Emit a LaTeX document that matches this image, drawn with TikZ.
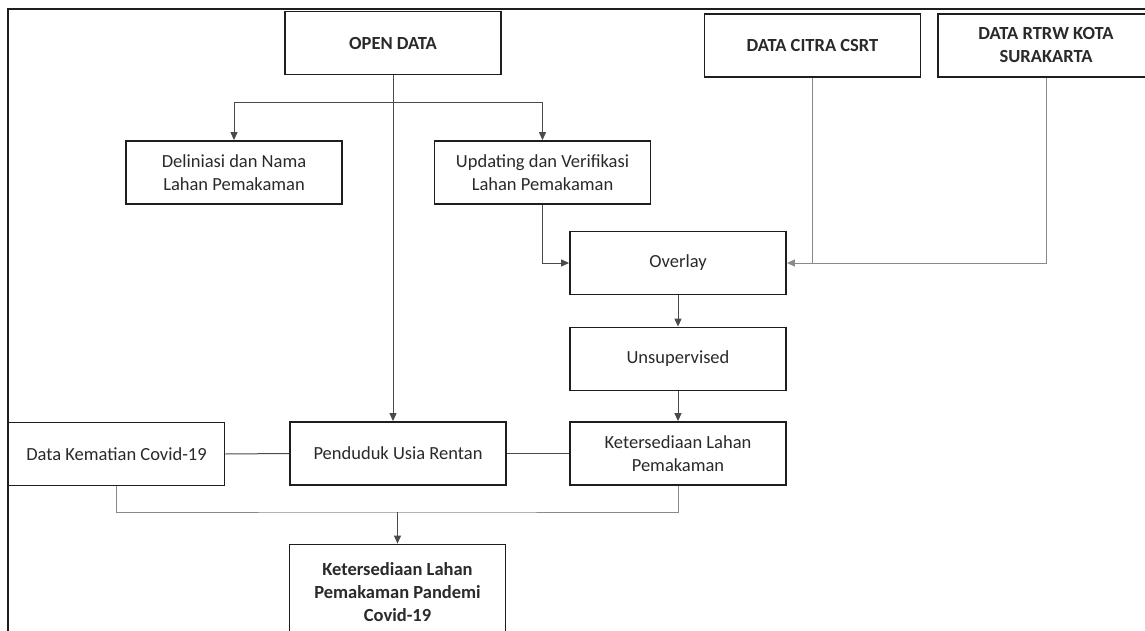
\documentclass[tikz,border=0pt]{standalone}
\usepackage{fontspec}
\setmainfont{Carlito}
\usepackage{xcolor}
\definecolor{boxline}{HTML}{1E1E1E}
\definecolor{textdark}{HTML}{2A2A2A}
\definecolor{linedark}{HTML}{4A4A4A}
\definecolor{linegray}{HTML}{8A8A8A}
\usepackage{tikz}
\usetikzlibrary{arrows.meta, calc}
\tikzset{
  fbox/.style ={rectangle, draw=boxline, line width=1.8pt, fill=white, text=textdark, align=center,
                minimum width=216pt, minimum height=63pt, inner sep=2pt,
                font=\fontsize{18.5}{23}\selectfont},
  fboxb/.style={fbox, font=\fontsize{18.5}{23}\selectfont\bfseries},
  farr/.style ={-{Triangle[length=8pt, width=7pt]}, line width=1pt, color=linedark},
  fline/.style={line width=1pt, color=linedark},
  garr/.style ={-{Triangle[length=8pt, width=7pt]}, line width=1pt, color=linegray},
  gline/.style={line width=1pt, color=linegray},
}

\begin{document}
\begin{tikzpicture}[x=1pt, y=-1pt]
  \useasboundingbox (0,0) rectangle (1145,631);
  \clip (0,0) rectangle (1145,631);
  % bingkai luar (terpotong di kanan dan bawah)
  \draw[line width=2.2pt, color=boxline] (8,700) -- (8,9) -- (1200,9);

  \node[fboxb] (opendata)  at (393,43)     {OPEN DATA};
  \node[fboxb] (citra)     at (812.5,45.5) {DATA CITRA CSRT};
  \node[fboxb] (rtrw)      at (1046,45.5)  {DATA RTRW KOTA\\SURAKARTA};
  \node[fbox]  (deliniasi) at (234,172.5)  {Deliniasi dan Nama\\Lahan Pemakaman};
  \node[fbox]  (updating)  at (542.5,172.5){Updating dan Verifikasi\\Lahan Pemakaman};
  \node[fbox]  (overlay)   at (678,263)    {Overlay};
  \node[fbox]  (unsup)     at (678,359)    {Unsupervised};
  \node[fbox]  (lahan)     at (678,453.5)  {Ketersediaan Lahan\\Pemakaman};
  \node[fbox]  (penduduk)  at (398,453.5)  {Penduduk Usia Rentan};
  \node[fbox]  (kematian)  at (116.5,454)  {Data Kematian Covid-19};
  \node[fboxb, minimum height=95pt] (hasil) at (397.5,592)
       {Ketersediaan Lahan\\Pemakaman Pandemi\\Covid-19};

  \coordinate (cabang) at (393,103);
  \coordinate (gabung) at (397.5,512);

  \draw[farr] (opendata.south) -- (opendata.south |- penduduk.north);
  \draw[farr] (cabang) -| (deliniasi.north);
  \draw[farr] (cabang) -| (updating.north);
  \draw[farr] (updating.south) |- (overlay.west);
  \draw[garr] (citra.south) |- (overlay.east);
  \draw[gline] (rtrw.south) |- (citra.south |- overlay.east);
  \draw[farr] (overlay.south) -- (unsup.north);
  \draw[farr] (unsup.south) -- (lahan.north);
  \draw[fline] (kematian.east) -- (penduduk.west);
  \draw[fline] (penduduk.east) -- (lahan.west);
  \draw[gline] (kematian.south) |- (gabung) -| (lahan.south);
  \draw[farr] (gabung) -- (hasil.north);
\end{tikzpicture}
\end{document}
